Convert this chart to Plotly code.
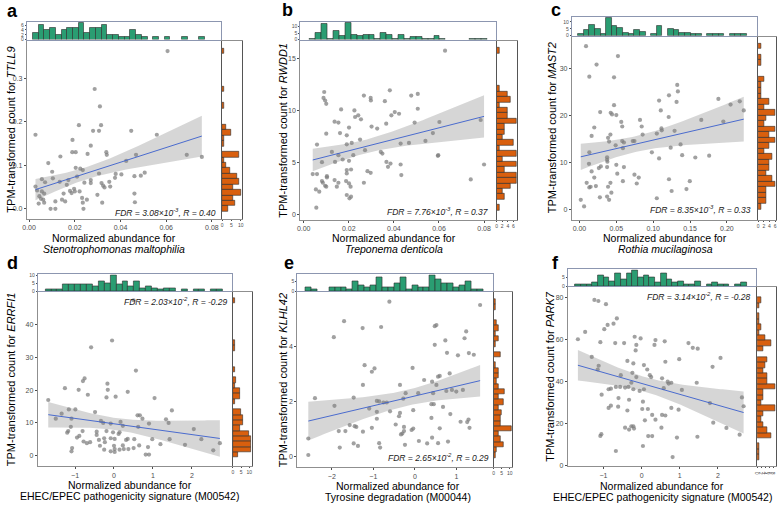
import numpy as np
import plotly.graph_objects as go

W, H = 778, 506

# ---------------- data ----------------
# a: TTLL9 vs Stenotrophomonas maltophilia
a_x = [0.0606, 0.0287, 0.031, 0.0028, 0.0218, 0.0315, 0.028, 0.0306, 0.0447, 0.0559,
       0.019, 0.027, 0.0137, 0.0189, 0.0204, 0.0256, 0.0338, 0.034, 0.0468, 0.069,
       0.0756, 0.0084, 0.0425, 0.0204, 0.0224, 0.0235, 0.0101, 0.0306, 0.0506, 0.0379,
       0.0404, 0.0489, 0.0461, 0.021, 0.0104, 0.0376, 0.0172, 0.027, 0.0056, 0.007,
       0.0134, 0.0242, 0.027, 0.0317, 0.0351, 0.0165, 0.0324, 0.033, 0.0197, 0.0028,
       0.0035, 0.0056, 0.0179, 0.0186, 0.02, 0.0221, 0.0066, 0.0045, 0.0461, 0.0151,
       0.0299, 0.0355, 0.0232, 0.0253, 0.0052, 0.0062, 0.0144, 0.0158, 0.0115, 0.0042,
       0.0066, 0.0235, 0.032, 0.0463, 0.0094, 0.0115, 0.0238]
a_y = [0.362, 0.275, 0.235, 0.17, 0.192, 0.192, 0.179, 0.179, 0.179, 0.17,
       0.158, 0.145, 0.12, 0.13, 0.13, 0.126, 0.13, 0.124, 0.124, 0.124,
       0.119, 0.105, 0.11, 0.094, 0.092, 0.089, 0.085, 0.081, 0.083, 0.08,
       0.079, 0.076, 0.075, 0.074, 0.07, 0.071, 0.066, 0.066, 0.068, 0.061,
       0.062, 0.06, 0.059, 0.059, 0.062, 0.055, 0.053, 0.049, 0.046, 0.051,
       0.042, 0.04, 0.041, 0.036, 0.04, 0.04, 0.035, 0.029, 0.035, 0.035,
       0.032, 0.051, 0.025, 0.021, 0.023, 0.021, 0.021, 0.017, 0.017, 0.012,
       0.014, 0.014, 0.014, 0.015, 0.0, 0.0, 0.0]
a_xticks = [0.0, 0.02, 0.04, 0.06, 0.08]
a_yticks = [0.0, 0.1, 0.2, 0.3]

# b: RWDD1 vs Treponema denticola
b_x = [0.0627, 0.0091, 0.0088, 0.0095, 0.0100, 0.0166, 0.0267, 0.0297, 0.0298, 0.036,
       0.0382, 0.0477, 0.0506, 0.0506, 0.0225, 0.0404, 0.0423, 0.0389, 0.0228, 0.0242,
       0.0254, 0.0137, 0.0154, 0.0492, 0.0602, 0.0201, 0.0301, 0.0326, 0.0785, 0.0366,
       0.0100, 0.0161, 0.0191, 0.025, 0.0573, 0.0059, 0.0191, 0.0213, 0.043, 0.0467,
       0.054, 0.0125, 0.0154, 0.022, 0.0272, 0.0342, 0.0349, 0.0081, 0.0139, 0.0173,
       0.0201, 0.0367, 0.0385, 0.043, 0.0374, 0.0595, 0.0597, 0.08, 0.0191, 0.021,
       0.0283, 0.0297, 0.0191, 0.004, 0.0059, 0.0433, 0.0103, 0.0103, 0.0081, 0.0085,
       0.0137, 0.0154, 0.0188, 0.0267, 0.0741, 0.0095, 0.0100, 0.0147, 0.0201, 0.0208,
       0.0054, 0.0069, 0.0191, 0.0203, 0.021, 0.0056]
b_y = [15.73, 11.77, 11.2, 10.95, 10.63, 10.1, 11.42, 11.2, 10.95, 10.89,
       11.93, 11.42, 11.58, 10.16, 10.0, 9.84, 9.68, 9.53, 9.37, 9.53,
       9.15, 8.92, 8.83, 8.83, 8.89, 8.35, 8.45, 8.26, 9.08, 8.73,
       7.77, 7.83, 7.61, 7.2, 7.83, 6.72, 6.75, 6.88, 6.82, 6.88,
       7.07, 6.02, 5.7, 5.7, 6.18, 6.02, 5.86, 5.03, 5.06, 5.29,
       5.16, 5.06, 4.9, 4.81, 4.59, 5.64, 5.7, 4.81, 4.27, 4.33,
       4.17, 4.01, 3.95, 3.89, 3.89, 3.79, 3.69, 3.57, 3.22, 3.06,
       3.31, 3.06, 3.22, 3.06, 3.38, 2.77, 2.68, 2.68, 2.99, 2.68,
       2.42, 2.2, 1.88, 1.56, 1.72, 0.67]
b_xticks = [0.0, 0.02, 0.04, 0.06, 0.08]
b_yticks = [0, 5, 10, 15]

# c: MAST2 vs Rothia mucilaginosa
c_x = [0.0089, 0.0522, 0.0232, 0.0134, 0.0469, 0.1326, 0.1214, 0.1335, 0.1884, 0.108,
       0.1317, 0.2049, 0.2174, 0.0469, 0.1103, 0.2228, 0.0281, 0.0424, 0.0442, 0.05,
       0.121, 0.1652, 0.0567, 0.0821, 0.1951, 0.0201, 0.058, 0.0844, 0.1112, 0.129,
       0.0165, 0.0388, 0.0402, 0.042, 0.058, 0.0603, 0.0723, 0.0746, 0.0857, 0.1049,
       0.1116, 0.0491, 0.1371, 0.0134, 0.0589, 0.1237, 0.1393, 0.1571, 0.1759, 0.0982,
       0.108, 0.0129, 0.0375, 0.0375, 0.0379, 0.05, 0.0603, 0.0263, 0.029, 0.0375,
       0.0165, 0.0513, 0.0746, 0.0201, 0.0804, 0.1214, 0.1496, 0.0589, 0.0777, 0.0098,
       0.0134, 0.0152, 0.0223, 0.0388, 0.042, 0.1451, 0.125, 0.0433, 0.0277, 0.0375,
       0.0402, 0.1049, 0.0018, 0.0063]
c_y = [34.76, 32.66, 30.84, 28.25, 28.11, 26.5, 24.27, 25.1, 23.5, 23.15,
       22.87, 22.3, 23.0, 22.17, 21.05, 21.05, 20.7, 20.56, 20.2, 20.07,
       19.65, 19.02, 18.6, 19.02, 18.67, 17.41, 17.62, 17.62, 17.2, 16.7,
       15.6, 15.2, 14.4, 15.9, 14.5, 14.2, 14.5, 14.5, 15.9, 16.1,
       16.8, 13.6, 13.8, 12.1, 13.0, 13.1, 11.5, 11.0, 11.4, 12.1,
       10.8, 9.65, 11.05, 10.5, 10.1, 9.44, 8.95, 8.74, 9.1, 8.95,
       8.04, 7.55, 7.34, 6.71, 6.71, 6.36, 5.94, 5.94, 5.45, 5.6,
       4.62, 4.76, 4.9, 4.76, 5.6, 4.27, 3.85, 3.5, 2.5, 2.66,
       1.96, 2.3, 1.96, 0.56]
c_xticks = [0.0, 0.05, 0.10, 0.15, 0.20]
c_yticks = [0, 10, 20, 30]

# d: ERRFI1 vs EHEC/EPEC pathogenicity signature
d_x = [0.504, -0.050, -0.588, 0.563, -0.756, -0.798, -0.168, -1.261, -0.908, -0.16,
       0.353, -0.672, -0.193, 0.042, 1.042, -1.689, -1.160, -0.992, 1.487, -1.496,
       -1.345, -1.092, -0.487, 0.605, 0.664, -0.336, -0.277, -0.084, 0.168, 0.731,
       1.336, 1.403, 0.227, 0.622, 0.899, -1.176, -1.109, -1.202, -0.807, -0.445,
       -0.193, -0.025, 0.143, 2.050, -0.891, -0.950, -0.445, -0.252, -0.084, 0.118,
       0.353, 0.983, 1.429, 2.244, -0.782, -0.613, -0.387, -0.235, 0.017, 0.311,
       0.521, 1.193, -0.697, -0.361, 0.0, 0.227, 0.647, 0.874, 1.824, -1.076,
       -0.252, 0.017, 0.143, 0.252, 0.370, 0.504, -1.092, -0.084, 0.017, 0.815,
       0.899, 2.55, 2.72]
d_y = [47.5, 35.2, 33.1, 26.0, 23.6, 22.8, 22.0, 20.6, 20.1, 20.1,
       19.5, 18.6, 17.8, 18.0, 17.6, 17.0, 14.1, 14.1, 13.8, 11.3,
       12.8, 11.3, 13.3, 12.3, 12.3, 10.6, 10.0, 9.8, 10.3, 11.3,
       11.1, 10.0, 9.1, 8.8, 9.8, 7.5, 8.8, 7.0, 7.5, 7.3,
       7.5, 7.1, 7.1, 8.1, 6.0, 5.5, 6.3, 5.3, 5.3, 6.6,
       5.1, 5.0, 5.0, 5.0, 4.3, 4.1, 4.8, 4.1, 5.1, 4.8,
       5.0, 3.5, 3.8, 3.0, 3.0, 3.1, 3.1, 2.6, 3.3, 2.3,
       1.8, 2.0, 1.8, 2.0, 2.0, 2.3, 1.3, 1.3, 1.1, 0.3,
       0.3, 1.6, 3.8]
d_xticks = [-1, 0, 1, 2]
d_yticks = [0, 10, 20, 30, 40]

# e: KLHL42 vs Tyrosine degradation
e_x = [-0.614, 1.570, -1.705, -1.259, -0.813, 0.478, 0.518, 1.235, -1.952, 1.195,
       0.733, 0.478, 0.773, 1.036, 1.299, 1.418, -1.211, -0.972, -0.056, -1.036,
       0.837, 0.558, 0.223, 0.598, 0.414, -0.359, -1.251, 0.518, 0.892, 0.757,
       0.438, 1.155, 0.996, -0.223, 0.080, -2.406, -1.474, -0.279, -0.916, -0.861,
       -0.757, -0.677, 0.398, 0.454, -1.936, -1.100, 0.677, -0.916, -0.598, -0.359,
       -0.040, -0.916, -0.382, 0.853, 1.291, 1.100, 1.259, -1.570, -1.450, -1.410,
       -0.462, -0.263, 0.398, 0.598, 1.315, -1.036, -1.833, -1.673, -1.251, -0.263,
       -0.080, -0.040, -2.566, -0.303, -0.335, -1.474, -1.371, -1.809, -0.861, -0.837,
       -0.239, 0.096, 0.295, 0.414, 0.558, 0.797, -2.566]
e_y = [5.63, 5.51, 4.92, 4.67, 4.71, 4.74, 4.78, 4.55, 4.34, 4.30,
       4.22, 4.06, 3.77, 3.68, 3.76, 3.70, 3.32, 3.20, 3.22, 3.08,
       3.02, 2.90, 2.78, 2.93, 2.72, 2.60, 2.60, 2.60, 2.42, 2.38,
       2.30, 2.42, 2.36, 2.30, 2.30, 2.12, 2.14, 2.10, 2.02, 2.00,
       1.96, 1.96, 1.90, 1.90, 1.84, 1.74, 1.80, 1.62, 1.64, 1.58,
       1.68, 1.37, 1.46, 1.54, 1.34, 1.26, 1.25, 1.14, 1.10, 1.07,
       1.16, 1.07, 1.40, 1.02, 1.04, 1.04, 0.92, 0.92, 0.90, 0.92,
       0.96, 1.01, 0.65, 0.83, 0.80, 0.47, 0.38, 0.32, 0.48, 0.32,
       0.42, 0.56, 0.47, 0.68, 0.48, 0.54, 0.05]
e_xticks = [-2, -1, 0, 1]
e_yticks = [0, 2, 4]

# f: PARK7 vs EHEC/EPEC pathogenicity signature
f_x = [-1.236, -1.132, -0.933, -0.648, -0.735, -0.890, -0.977, -1.478, -1.668, -0.182,
       -0.026, -1.080, -0.691, -0.458, 0.363, 0.605, 0.337, -0.138, -0.156, 1.227,
       1.340, 1.469, -1.305, 2.066, -0.372, -0.216, 0.061, 0.622, 0.985, -1.124,
       1.858, -1.150, -0.545, 0.147, -0.242, -0.138, 0.216, 0.251, 0.536, 0.683,
       0.778, -0.268, 0.709, 1.443, -0.674, -0.562, -0.432, -0.346, -0.216, -0.052,
       0.061, 0.579, 1.054, -1.046, -0.605, -0.864, -0.804, -0.328, -0.864, -0.804,
       -0.614, 0.035, -0.372, 0.778, 0.968, 0.017, 0.164, 1.789, 2.627, 2.671,
       0.277, 0.536, 0.622, 0.363, 0.086, -0.268, -0.432, -0.199, -0.328, -0.216,
       0.519, 1.876, 2.221, -1.080, -1.054, 0.173, 0.277, 0.925, 1.461, 2.567,
       0.035, -0.674, 0.812]
f_y = [78.9, 78.4, 76.9, 70.1, 67.6, 67.0, 65.0, 63.7, 60.2, 61.4,
       60.6, 58.8, 58.4, 58.4, 59.8, 59.2, 57.5, 57.5, 54.9, 58.4,
       56.1, 55.7, 51.8, 51.3, 49.9, 48.7, 47.9, 49.5, 50.7, 47.6,
       47.1, 45.8, 43.1, 45.8, 44.2, 42.2, 43.1, 42.2, 41.6, 40.0,
       39.5, 39.5, 39.1, 39.5, 37.5, 37.5, 37.2, 37.5, 36.4, 35.6,
       36.4, 36.9, 36.1, 33.8, 32.2, 36.4, 36.7, 31.4, 27.5, 28.6,
       28.1, 30.5, 26.3, 27.5, 26.7, 27.0, 27.0, 29.8, 32.5, 28.3,
       24.2, 24.2, 23.9, 21.9, 21.6, 18.8, 18.1, 17.7, 17.2, 18.8,
       18.1, 20.5, 18.0, 14.2, 15.0, 14.1, 14.1, 13.4, 13.8, 14.8,
       9.4, 7.0, 4.1]
f_xticks = [-1, 0, 1, 2]
f_yticks = [0, 20, 40, 60, 80]

# ---------------- panel setup ----------------
panels = [
    dict(letter="a", x=a_x, y=a_y, xt=a_xticks, yt=a_yticks, xfmt=".2f", yfmt=".1f",
         gene="TTLL9", xl2="<i>Stenotrophomonas maltophilia</i>",
         fdr="FDR = 3.08×10<sup>-3</sup>, R = 0.40",
         xr=(-0.001, 0.084), yr=(-0.023, 0.386),
         main=(22, 218, 39, 219), top=(20, 38), side=(219, 239),
         lab=(8, 9), ytx=6, xtx=110, xty=(238, 249), fdrpos=(215, 213)),
    dict(letter="b", x=b_x, y=b_y, xt=b_xticks, yt=b_yticks, xfmt=".2f", yfmt="d",
         gene="RWDD1", xl2="<i>Treponema denticola</i>",
         fdr="FDR = 7.76×10<sup>-3</sup>, R = 0.37",
         xr=(-0.0015, 0.0851), yr=(-0.5, 16.7),
         main=(298, 495, 39, 220), top=(20, 38), side=(496, 517),
         lab=(285, 8), ytx=281, xtx=393, xty=(238, 249), fdrpos=(489, 212)),
    dict(letter="c", x=c_x, y=c_y, xt=c_xticks, yt=c_yticks, xfmt=".2f", yfmt="d",
         gene="MAST2", xl2="<i>Rothia mucilaginosa</i>",
         fdr="FDR = 8.35×10<sup>-3</sup>, R = 0.33",
         xr=(-0.0103, 0.241), yr=(-2.3, 36.8),
         main=(572, 759, 35, 220), top=(15, 34), side=(760, 778),
         lab=(556, 8), ytx=552, xtx=666, xty=(238, 249), fdrpos=(755, 210)),
    dict(letter="d", x=d_x, y=d_y, xt=d_xticks, yt=d_yticks, xfmt="d", yfmt="d",
         gene="ERRFI1", xl2="EHEC/EPEC pathogenicity signature (M00542)",
         fdr="FDR = 2.03×10<sup>-2</sup>, R = -0.29",
         xr=(-1.96, 3.03), yr=(-3.3, 50.0),
         main=(33, 229, 293, 469), top=(275, 292), side=(230, 249),
         lab=(8, 264), ytx=6, xtx=126, xty=(488, 499), fdrpos=(227, 302)),
    dict(letter="e", x=e_x, y=e_y, xt=e_xticks, yt=e_yticks, xfmt="d", yfmt="d",
         gene="KLHL42", xl2="Tyrosine degradation (M00044)",
         fdr="FDR = 2.65×10<sup>-2</sup>, R = 0.29",
         xr=(-2.83, 1.87), yr=(-0.4, 5.98),
         main=(295, 492, 293, 470), top=(275, 292), side=(493, 512),
         lab=(287, 264), ytx=280, xtx=397, xty=(489, 500), fdrpos=(490, 460)),
    dict(letter="f", x=f_x, y=f_y, xt=f_xticks, yt=f_yticks, xfmt="d", yfmt="d",
         gene="PARK7", xl2="EHEC/EPEC pathogenicity signature (M00542)",
         fdr="FDR = 3.14×10<sup>-2</sup>, R = -0.28",
         xr=(-1.93, 3.0), yr=(-0.3, 85.0),
         main=(568, 758, 288, 469), top=(270, 287), side=(759, 778),
         lab=(555, 264), ytx=550, xtx=663, xty=(489, 500), fdrpos=(755, 297)),
]

FONT = "Liberation Sans, Arial, sans-serif"
GREEN = "#2a9d72"
ORANGE = "#d95f0e"
BOX = "#8f8f8f"
TICK = "#4d4d4d"


def fit_band(x, y, n=80):
    x = np.asarray(x, float)
    y = np.asarray(y, float)
    b1, b0 = np.polyfit(x, y, 1)
    xs = np.linspace(x.min(), x.max(), n)
    resid = y - (b0 + b1 * x)
    s = np.sqrt((resid ** 2).sum() / (len(x) - 2))
    se = s * np.sqrt(1 / len(x) + (xs - x.mean()) ** 2 / ((x - x.mean()) ** 2).sum())
    fit = b0 + b1 * xs
    return xs, fit, fit - 1.99 * se, fit + 1.99 * se


def gg_bins(v, bins=30):
    lo, hi = min(v), max(v)
    w = (hi - lo) / (bins - 1)
    return dict(start=lo - w / 2, end=hi + w / 2, size=w)


def sfx(i):
    return "" if i == 1 else str(i)


fig = go.Figure()
lay = {}
ann = []

for k, p in enumerate(panels):
    n = 3 * k + 1
    L, R, T, B = p["main"]
    xd = [L / W, R / W]
    yd = [1 - B / H, 1 - T / H]
    mx, my = "x" + sfx(n), "y" + sfx(n)
    tx, ty = "x" + str(n + 1), "y" + str(n + 1)
    sx, sy = "x" + str(n + 2), "y" + str(n + 2)

    xs, fit, lo, hi = fit_band(p["x"], p["y"])
    fig.add_trace(go.Scatter(x=list(xs) + list(xs[::-1]), y=list(hi) + list(lo[::-1]),
                             fill="toself", fillcolor="rgba(153,153,153,0.4)",
                             line=dict(width=0), mode="lines", hoverinfo="skip",
                             xaxis=mx, yaxis=my, showlegend=False))
    fig.add_trace(go.Scatter(x=p["x"], y=p["y"], mode="markers",
                             marker=dict(size=4.2, color="rgba(125,125,125,0.72)"),
                             xaxis=mx, yaxis=my, showlegend=False))
    fig.add_trace(go.Scatter(x=xs, y=fit, mode="lines", line=dict(color="#3a5fcd", width=0.9),
                             xaxis=mx, yaxis=my, showlegend=False))

    # marginal histograms
    fig.add_trace(go.Histogram(x=p["x"], xbins=gg_bins(p["x"]), xaxis=tx, yaxis=ty,
                               marker=dict(color=GREEN, line=dict(color="#2b2b2b", width=0.6)),
                               showlegend=False))
    fig.add_trace(go.Histogram(y=p["y"], ybins=gg_bins(p["y"]), orientation="h",
                               xaxis=sx, yaxis=sy,
                               marker=dict(color=ORANGE, line=dict(color="#2b2b2b", width=0.6)),
                               showlegend=False))

    common = dict(showgrid=False, zeroline=False, showline=True, mirror=True,
                  linewidth=1)
    lay["xaxis" + sfx(n)] = dict(domain=xd, range=list(p["xr"]), anchor=my,
                                 tickvals=p["xt"], tickformat=p["xfmt"], ticks="outside",
                                 ticklen=2, tickcolor=TICK, linecolor=BOX,
                                 tickfont=dict(size=7, color=TICK, family=FONT), **common)
    lay["yaxis" + sfx(n)] = dict(domain=yd, range=list(p["yr"]), anchor=mx,
                                 tickvals=p["yt"], tickformat=p["yfmt"], ticks="outside",
                                 ticklen=2, tickcolor=TICK, linecolor=BOX,
                                 tickfont=dict(size=7, color=TICK, family=FONT), **common)

    tt, tb = p["top"]
    lay["xaxis" + str(n + 1)] = dict(domain=xd, range=list(p["xr"]), anchor=ty,
                                     showticklabels=False, ticks="", linecolor="#8c96b0",
                                     **common)
    lay["yaxis" + str(n + 1)] = dict(domain=[1 - tb / H, 1 - tt / H], anchor=tx, nticks=4,
                                     ticks="outside", ticklen=1, tickcolor=TICK,
                                     linecolor="#8c96b0",
                                     tickfont=dict(size=5, color=TICK, family=FONT), **common)
    sl, sr = p["side"]
    lay["xaxis" + str(n + 2)] = dict(domain=[sl / W, min(sr / W, 1.0)], anchor=sy, nticks=5,
                                     ticks="outside", ticklen=1, tickcolor=TICK,
                                     linecolor=BOX,
                                     tickfont=dict(size=5, color=TICK, family=FONT), **common)
    lay["yaxis" + str(n + 2)] = dict(domain=yd, range=list(p["yr"]), anchor=sx,
                                     showticklabels=False, ticks="", linecolor="#555555",
                                     **common)

    # text
    ann.append(dict(text="<b>" + p["letter"] + "</b>", x=p["lab"][0] / W, y=1 - p["lab"][1] / H,
                    font=dict(size=18, color="black", family=FONT)))
    ann.append(dict(text="TPM-transformed count for <i>" + p["gene"] + "</i>",
                    x=p["ytx"] / W, y=1 - (T + B) / 2 / H, textangle=-90,
                    font=dict(size=11, color="black", family=FONT)))
    ann.append(dict(text="Normalized abundance for", x=p["xtx"] / W, y=1 - p["xty"][0] / H,
                    font=dict(size=10.5, color="black", family=FONT)))
    ann.append(dict(text=p["xl2"], x=p["xtx"] / W, y=1 - p["xty"][1] / H,
                    font=dict(size=10.5, color="black", family=FONT)))
    ann.append(dict(text="<i>" + p["fdr"] + "</i>", x=p["fdrpos"][0] / W,
                    y=1 - p["fdrpos"][1] / H, xanchor="right",
                    font=dict(size=8.5, color="#1a1a1a", family=FONT)))

for a in ann:
    a.update(xref="paper", yref="paper", showarrow=False)
    a.setdefault("xanchor", "center")
    a.setdefault("yanchor", "middle")

fig.update_layout(width=W, height=H, autosize=False,
                  margin=dict(l=0, r=0, t=0, b=0),
                  paper_bgcolor="white", plot_bgcolor="white",
                  bargap=0, font=dict(family=FONT),
                  annotations=ann, **lay)

# page body has a default 8px margin; drop it so the figure fills the window
fig.write_html("out.html", config={"displayModeBar": False},
               post_script="document.body.style.margin='0px';")
